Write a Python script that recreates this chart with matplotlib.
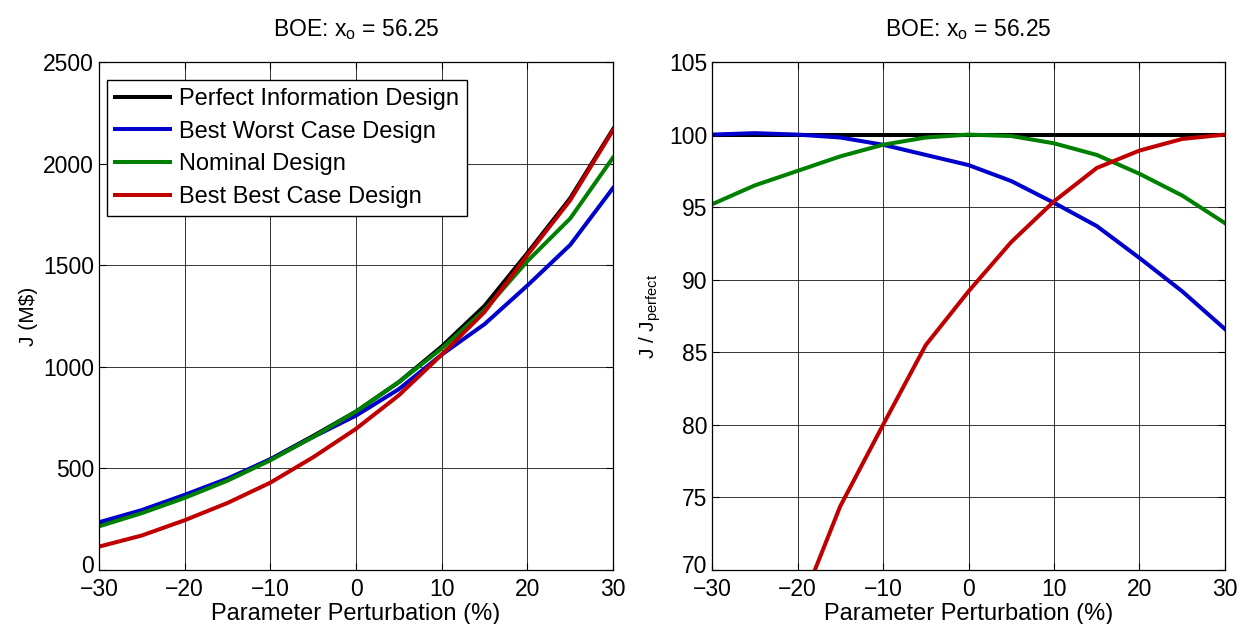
import matplotlib
matplotlib.use('Agg')
import matplotlib.pyplot as plt
from matplotlib.transforms import ScaledTranslation

plt.rcParams['font.family'] = ['Liberation Sans', 'DejaVu Sans']
plt.rcParams['mathtext.default'] = 'regular'
plt.rcParams['axes.unicode_minus'] = True

# perturbation (%)
pert = [-30, -25, -20, -15, -10, -5, 0, 5, 10, 15, 20, 25, 30]

# J (M$) for each design
j_perfect = [230, 290, 365, 445, 545, 660, 780, 925, 1100, 1300, 1560, 1830, 2170]
j_worst = [235, 295, 370, 450, 545, 655, 760, 890, 1060, 1210, 1400, 1600, 1880]
j_nominal = [215, 280, 355, 440, 540, 655, 780, 925, 1090, 1280, 1520, 1730, 2030]
j_best = [115, 170, 245, 330, 430, 555, 695, 860, 1060, 1270, 1550, 1820, 2165]

# J / J_perfect (%)
r_perfect = [100] * 13
r_worst = [100, 100.1, 100, 99.8, 99.3, 98.6, 97.9, 96.8, 95.3, 93.7, 91.5, 89.2, 86.6]
r_nominal = [95.2, 96.5, 97.5, 98.5, 99.3, 99.8, 100, 99.9, 99.4, 98.6, 97.3, 95.8, 93.9]
r_best = [52, 60, 67, 74.4, 80, 85.5, 89.2, 92.6, 95.4, 97.7, 98.9, 99.7, 100]

labels = ['Perfect Information Design', 'Best Worst Case Design',
          'Nominal Design', 'Best Best Case Design']
colors = ['#000000', '#0000cc', '#008000', '#c00000']

fig = plt.figure(figsize=(12.42, 6.24), dpi=100)
ax1 = fig.add_axes([0.0797, 0.0865, 0.4139, 0.8141])
ax2 = fig.add_axes([0.5733, 0.0865, 0.4130, 0.8141])

for y, lab, c in zip([j_perfect, j_worst, j_nominal, j_best], labels, colors):
    ax1.plot(pert, y, color=c, lw=2.9, label=lab)
for y, c in zip([r_perfect, r_worst, r_nominal, r_best], colors):
    ax2.plot(pert, y, color=c, lw=2.9)

for ax in (ax1, ax2):
    ax.set_xlim(-30, 30)
    ax.set_xticks(range(-30, 31, 10))
    ax.grid(True, color='black', lw=0.7, alpha=0.8)
    ax.tick_params(direction='in', labelsize=16.5, top=True, right=True, length=5)
    ax.tick_params(axis='x', pad=6)
    ax.set_xlabel('Parameter Perturbation (%)', fontsize=17, labelpad=1)
    ax.set_title(r'BOE: x$_{o}$ = 56.25', fontsize=16.5, pad=19)
    for s in ax.spines.values():
        s.set_linewidth(0.9)

ax1.set_ylim(0, 2500)
ax1.set_yticks(range(0, 2501, 500))
ax1.set_ylabel('J (M\\$)', fontsize=15)
ax1.legend(loc='upper left', fontsize=17, frameon=True, fancybox=False,
           edgecolor='black', framealpha=1, handlelength=2.3,
           borderpad=0.35, labelspacing=0.45, handletextpad=0.4,
           borderaxespad=0, bbox_to_anchor=(0.016, 0.965))

ax2.set_ylim(70, 105)
ax2.set_yticks(range(70, 106, 5))
ax2.set_ylabel(r'J / J$_{perfect}$', fontsize=15)

# lift the lowest y label a touch so it clears the first x label
fig.canvas.draw()
for ax in (ax1, ax2):
    lab0 = ax.get_yticklabels()[0]
    lab0.set_transform(lab0.get_transform() + ScaledTranslation(0, 4 / 72, fig.dpi_scale_trans))

fig.savefig('out.png', dpi=100)
